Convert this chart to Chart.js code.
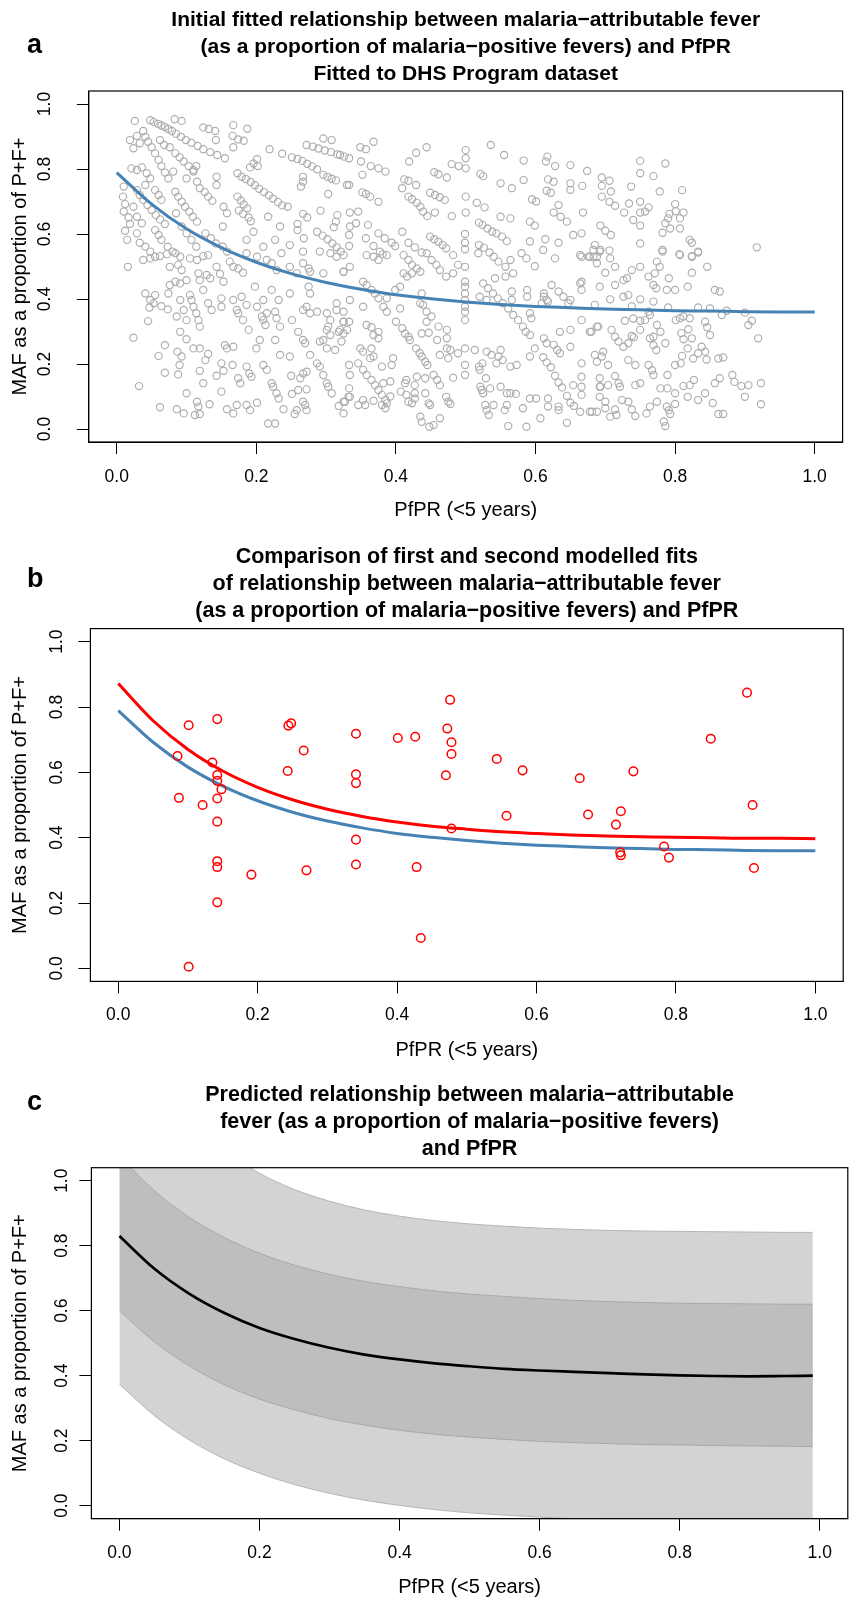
<!DOCTYPE html>
<html><head><meta charset="utf-8">
<script src="https://cdn.jsdelivr.net/npm/chart.js@4.4.1/dist/chart.umd.min.js"></script>
<style>
html,body{margin:0;padding:0;width:849px;height:1603px;overflow:hidden;background:#fff;}
.pan{position:absolute;left:0;}
canvas{display:block;}
</style></head><body>
<div class="pan" style="top:0px"><canvas id="ca" width="849" height="540"></canvas></div>
<div class="pan" style="top:540px"><canvas id="cb" width="849" height="530"></canvas></div>
<div class="pan" style="top:1070px"><canvas id="cc" width="849" height="533"></canvas></div>
<script>
// ---------- DATA ----------
const tickVals = [0, 0.2, 0.4, 0.6, 0.8, 1.0];
const titleA = ["Initial fitted relationship between malaria\u2212attributable fever", "(as a proportion of malaria\u2212positive fevers) and PfPR", "Fitted to DHS Program dataset"];
const titleB = ["Comparison of first and second modelled fits", "of relationship between malaria\u2212attributable fever", "(as a proportion of malaria\u2212positive fevers) and PfPR"];
const titleC = ["Predicted relationship between malaria\u2212attributable", "fever (as a proportion of malaria\u2212positive fevers)", "and PfPR"];
const xLabel = "PfPR (<5 years)";
const yLabel = "MAF as a proportion of P+F+";

// fitted curves (panel a and b)
const fitX = [0,0.05,0.1,0.15,0.2,0.25,0.3,0.35,0.4,0.45,0.5,0.55,0.6,0.65,0.7,0.75,0.8,0.85,0.9,0.95,1.0];
const firstFit = [0.789,0.692,0.616,0.558,0.513,0.478,0.451,0.430,0.413,0.401,0.391,0.383,0.377,0.373,0.369,0.367,0.364,0.363,0.361,0.360,0.360];
const secondFit = [0.872,0.758,0.670,0.604,0.554,0.516,0.487,0.465,0.448,0.435,0.426,0.418,0.413,0.408,0.405,0.403,0.401,0.400,0.398,0.398,0.397];

// panel b test points
const testX = [0.101,0.085,0.087,0.101,0.121,0.135,0.142,0.142,0.142,0.148,0.142,0.142,0.142,0.142,0.142,0.191,0.243,0.244,0.248,0.266,0.270,0.341,0.341,0.341,0.341,0.341,0.401,0.426,0.428,0.434,0.470,0.472,0.476,0.478,0.478,0.478,0.543,0.557,0.580,0.662,0.674,0.714,0.721,0.739,0.720,0.721,0.783,0.790,0.850,0.902,0.910,0.912];
const testY = [0.744,0.650,0.522,0.005,0.500,0.630,0.763,0.592,0.574,0.548,0.520,0.449,0.328,0.310,0.202,0.287,0.604,0.743,0.750,0.667,0.300,0.718,0.594,0.567,0.394,0.318,0.705,0.709,0.310,0.093,0.591,0.734,0.822,0.692,0.656,0.428,0.641,0.467,0.606,0.582,0.471,0.440,0.481,0.603,0.355,0.346,0.373,0.339,0.703,0.844,0.500,0.307];

// panel c prediction and intervals
const predX = [0,0.05,0.1,0.15,0.2,0.25,0.3,0.35,0.4,0.45,0.5,0.55,0.6,0.65,0.7,0.75,0.8,0.85,0.9,0.95,0.99];
const predMid = [0.830,0.729,0.652,0.593,0.547,0.513,0.486,0.465,0.450,0.438,0.429,0.421,0.416,0.412,0.408,0.404,0.401,0.399,0.398,0.399,0.400];
const innerHi = [1.076,0.969,0.887,0.825,0.777,0.740,0.712,0.690,0.674,0.661,0.651,0.644,0.637,0.632,0.628,0.625,0.623,0.622,0.621,0.620,0.620];
const innerLo = [0.600,0.504,0.430,0.372,0.328,0.295,0.268,0.248,0.232,0.220,0.211,0.204,0.198,0.194,0.191,0.188,0.187,0.185,0.184,0.183,0.182];
const outerHi = [1.500,1.319,1.188,1.093,1.023,0.973,0.937,0.910,0.891,0.877,0.867,0.860,0.854,0.850,0.847,0.845,0.844,0.843,0.842,0.841,0.841];
const outerLo = [0.374,0.277,0.202,0.144,0.100,0.065,0.038,0.017,0.001,-0.012,-0.022,-0.029,-0.035,-0.040,-0.043,-0.046,-0.048,-0.049,-0.051,-0.052,-0.052];

// panel a survey points [PfPR, MAF]
const dhsPoints = [
[0.026,0.948],[0.048,0.950],[0.053,0.945],[0.059,0.939],[0.064,0.934],[0.069,0.929],[0.074,0.923],[0.079,0.917],[0.083,0.953],[0.093,0.948],
[0.019,0.889],[0.029,0.902],[0.038,0.917],[0.033,0.879],[0.024,0.864],[0.041,0.899],[0.045,0.884],[0.050,0.867],[0.055,0.848],[0.060,0.828],
[0.064,0.809],[0.069,0.789],[0.074,0.771],[0.062,0.889],[0.068,0.874],[0.076,0.867],[0.084,0.848],[0.090,0.836],[0.096,0.823],[0.103,0.809],
[0.110,0.797],[0.085,0.908],[0.092,0.899],[0.099,0.889],[0.107,0.881],[0.116,0.871],[0.124,0.861],[0.134,0.852],[0.144,0.843],[0.155,0.833],
[0.124,0.928],[0.132,0.923],[0.141,0.917],[0.142,0.889],[0.167,0.935],[0.187,0.924],[0.166,0.902],[0.174,0.891],[0.182,0.887],[0.167,0.867],
[0.219,0.861],[0.237,0.847],[0.251,0.836],[0.259,0.831],[0.266,0.825],[0.273,0.816],[0.280,0.808],[0.287,0.799],[0.296,0.894],[0.308,0.889],
[0.272,0.874],[0.281,0.869],[0.289,0.863],[0.298,0.857],[0.307,0.852],[0.316,0.845],[0.326,0.838],[0.201,0.830],[0.196,0.817],[0.191,0.805],
[0.202,0.809],[0.114,0.809],[0.110,0.792],[0.267,0.776],[0.267,0.761],[0.264,0.746],[0.296,0.782],[0.302,0.776],[0.308,0.770],[0.314,0.765],
[0.330,0.751],[0.143,0.776],[0.143,0.751],[0.173,0.787],[0.179,0.776],[0.185,0.769],[0.192,0.760],[0.198,0.750],[0.204,0.739],[0.211,0.729],
[0.218,0.719],[0.224,0.709],[0.231,0.698],[0.237,0.688],[0.119,0.741],[0.126,0.729],[0.131,0.715],[0.137,0.702],[0.173,0.715],[0.178,0.703],
[0.182,0.691],[0.187,0.679],[0.175,0.672],[0.181,0.662],[0.189,0.651],[0.192,0.639],[0.245,0.684],[0.217,0.653],[0.234,0.623],[0.267,0.662],
[0.273,0.651],[0.259,0.631],[0.259,0.612],[0.268,0.587],[0.292,0.672],[0.303,0.723],[0.316,0.658],[0.314,0.638],[0.311,0.621],[0.287,0.607],
[0.295,0.595],[0.302,0.584],[0.309,0.571],[0.315,0.559],[0.321,0.546],[0.010,0.746],[0.009,0.715],[0.012,0.692],[0.010,0.669],[0.017,0.651],
[0.019,0.631],[0.012,0.610],[0.015,0.582],[0.021,0.802],[0.029,0.797],[0.036,0.805],[0.043,0.787],[0.048,0.771],[0.041,0.751],[0.029,0.735],
[0.033,0.720],[0.038,0.705],[0.044,0.689],[0.050,0.674],[0.056,0.658],[0.062,0.645],[0.069,0.631],[0.024,0.684],[0.029,0.653],[0.036,0.633],
[0.029,0.602],[0.033,0.573],[0.041,0.561],[0.048,0.546],[0.055,0.735],[0.060,0.720],[0.064,0.705],[0.055,0.612],[0.060,0.597],[0.064,0.582],
[0.073,0.561],[0.080,0.546],[0.084,0.730],[0.088,0.715],[0.093,0.699],[0.098,0.684],[0.104,0.669],[0.109,0.653],[0.115,0.638],[0.085,0.664],
[0.093,0.623],[0.100,0.602],[0.107,0.582],[0.114,0.561],[0.127,0.602],[0.135,0.587],[0.142,0.571],[0.152,0.561],[0.158,0.546],[0.081,0.792],
[0.100,0.771],[0.115,0.761],[0.153,0.684],[0.158,0.664],[0.152,0.623],[0.210,0.561],[0.227,0.582],[0.248,0.566],[0.186,0.582],[0.196,0.607],
[0.368,0.884],[0.349,0.867],[0.357,0.861],[0.320,0.843],[0.333,0.833],[0.350,0.823],[0.364,0.809],[0.375,0.802],[0.385,0.792],[0.352,0.782],
[0.333,0.751],[0.352,0.728],[0.357,0.723],[0.363,0.715],[0.375,0.699],[0.419,0.823],[0.429,0.850],[0.444,0.867],[0.412,0.768],[0.418,0.764],
[0.429,0.751],[0.409,0.741],[0.418,0.715],[0.423,0.707],[0.430,0.696],[0.435,0.684],[0.439,0.669],[0.445,0.655],[0.455,0.790],[0.461,0.784],
[0.473,0.774],[0.449,0.727],[0.456,0.720],[0.463,0.713],[0.470,0.705],[0.456,0.666],[0.480,0.655],[0.480,0.815],[0.490,0.809],[0.500,0.802],
[0.500,0.833],[0.500,0.858],[0.521,0.785],[0.525,0.778],[0.500,0.715],[0.500,0.666],[0.516,0.696],[0.527,0.682],[0.536,0.874],[0.555,0.843],
[0.583,0.826],[0.583,0.766],[0.566,0.741],[0.550,0.756],[0.617,0.838],[0.615,0.823],[0.628,0.809],[0.650,0.812],[0.674,0.794],[0.618,0.768],
[0.626,0.761],[0.650,0.756],[0.650,0.736],[0.616,0.733],[0.622,0.727],[0.595,0.707],[0.601,0.700],[0.633,0.689],[0.626,0.666],[0.636,0.653],
[0.645,0.638],[0.667,0.748],[0.668,0.666],[0.519,0.635],[0.524,0.628],[0.531,0.617],[0.538,0.607],[0.544,0.602],[0.552,0.592],[0.559,0.578],
[0.550,0.653],[0.564,0.648],[0.592,0.638],[0.599,0.626],[0.654,0.597],[0.666,0.602],[0.499,0.600],[0.499,0.573],[0.499,0.553],[0.334,0.666],
[0.346,0.669],[0.343,0.633],[0.334,0.623],[0.360,0.628],[0.375,0.602],[0.384,0.587],[0.394,0.573],[0.399,0.563],[0.333,0.597],[0.333,0.563],
[0.357,0.587],[0.368,0.563],[0.377,0.546],[0.409,0.607],[0.418,0.573],[0.427,0.559],[0.437,0.543],[0.449,0.592],[0.455,0.584],[0.461,0.576],
[0.467,0.566],[0.472,0.556],[0.519,0.566],[0.526,0.558],[0.534,0.543],[0.614,0.584],[0.633,0.573],[0.592,0.577],[0.611,0.551],[0.664,0.535],
[0.676,0.530],[0.683,0.551],
[0.750,0.825],[0.786,0.817],[0.750,0.787],[0.769,0.778],[0.695,0.774],[0.706,0.764],[0.695,0.748],[0.708,0.731],[0.695,0.715],[0.706,0.699],
[0.714,0.687],[0.737,0.746],[0.778,0.731],[0.810,0.735],[0.750,0.699],[0.762,0.682],[0.757,0.669],[0.750,0.666],[0.734,0.694],[0.727,0.666],
[0.800,0.692],[0.792,0.662],[0.812,0.666],[0.801,0.670],[0.790,0.648],[0.807,0.648],[0.786,0.633],[0.793,0.617],[0.807,0.617],[0.740,0.643],
[0.750,0.626],[0.693,0.626],[0.700,0.610],[0.708,0.597],[0.782,0.604],[0.750,0.571],[0.821,0.582],[0.824,0.573],[0.833,0.546],[0.824,0.530],
[0.917,0.559],[0.685,0.566],[0.693,0.551],[0.706,0.549],[0.782,0.551],[0.806,0.538],
[0.038,0.520],[0.048,0.525],[0.055,0.530],[0.062,0.532],[0.072,0.538],[0.084,0.541],[0.076,0.499],[0.088,0.505],[0.093,0.489],[0.091,0.530],
[0.105,0.525],[0.115,0.520],[0.124,0.532],[0.131,0.535],[0.117,0.479],[0.119,0.458],[0.129,0.474],[0.134,0.464],[0.143,0.499],[0.148,0.477],
[0.153,0.453],[0.162,0.515],[0.167,0.499],[0.174,0.494],[0.181,0.481],[0.186,0.541],[0.201,0.530],[0.215,0.520],[0.222,0.510],[0.229,0.489],
[0.236,0.541],[0.248,0.499],[0.258,0.479],[0.267,0.510],[0.275,0.494],[0.277,0.484],[0.296,0.479],[0.267,0.546],[0.291,0.546],[0.306,0.541],
[0.315,0.530],[0.325,0.484],[0.016,0.499],[0.024,0.281],[0.032,0.132],[0.041,0.417],[0.048,0.397],[0.055,0.412],[0.053,0.387],[0.047,0.374],
[0.064,0.378],[0.073,0.368],[0.045,0.332],[0.076,0.443],[0.074,0.417],[0.084,0.453],[0.091,0.448],[0.100,0.458],[0.086,0.346],[0.091,0.397],
[0.096,0.366],[0.100,0.335],[0.105,0.412],[0.107,0.397],[0.110,0.376],[0.114,0.356],[0.117,0.335],[0.119,0.315],[0.124,0.428],[0.131,0.387],
[0.136,0.366],[0.150,0.402],[0.150,0.376],[0.167,0.397],[0.172,0.366],[0.174,0.356],[0.179,0.407],[0.181,0.335],[0.186,0.382],[0.189,0.305],
[0.198,0.438],[0.201,0.376],[0.210,0.397],[0.208,0.346],[0.210,0.335],[0.213,0.320],[0.215,0.356],[0.222,0.428],[0.227,0.361],[0.229,0.341],
[0.232,0.397],[0.234,0.315],[0.248,0.417],[0.251,0.335],[0.260,0.299],[0.267,0.366],[0.272,0.376],[0.277,0.356],[0.287,0.361],[0.275,0.438],
[0.277,0.417],[0.301,0.356],[0.306,0.335],[0.315,0.387],[0.315,0.366],[0.320,0.305],[0.301,0.305],[0.303,0.315],[0.306,0.289],[0.296,0.274],
[0.291,0.269],[0.325,0.330],[0.330,0.305],[0.318,0.299],[0.091,0.299],[0.100,0.276],[0.069,0.258],[0.060,0.225],[0.087,0.238],[0.093,0.223],
[0.090,0.197],[0.088,0.168],[0.069,0.173],[0.110,0.248],[0.119,0.248],[0.131,0.231],[0.127,0.212],[0.119,0.179],[0.124,0.141],[0.143,0.164],
[0.150,0.202],[0.153,0.179],[0.155,0.258],[0.158,0.248],[0.167,0.253],[0.166,0.197],[0.174,0.156],[0.177,0.141],[0.186,0.192],[0.190,0.171],
[0.193,0.161],[0.200,0.248],[0.205,0.274],[0.210,0.197],[0.215,0.182],[0.222,0.141],[0.224,0.130],[0.229,0.110],[0.232,0.094],[0.239,0.061],
[0.227,0.274],[0.234,0.228],[0.248,0.223],[0.250,0.164],[0.251,0.108],[0.260,0.120],[0.263,0.156],[0.267,0.171],[0.272,0.176],[0.272,0.122],
[0.267,0.084],[0.270,0.074],[0.272,0.058],[0.258,0.058],[0.255,0.046],[0.267,0.274],[0.270,0.264],[0.277,0.228],[0.287,0.202],[0.291,0.192],
[0.296,0.166],[0.301,0.141],[0.303,0.130],[0.308,0.110],[0.313,0.243],[0.301,0.248],[0.318,0.071],[0.325,0.084],[0.332,0.099],[0.062,0.067],
[0.086,0.061],[0.096,0.048],[0.112,0.043],[0.119,0.046],[0.115,0.084],[0.117,0.069],[0.133,0.076],[0.158,0.061],[0.167,0.048],[0.186,0.074],
[0.191,0.058],[0.201,0.081],[0.217,0.017],[0.227,0.017],[0.100,0.110],[0.150,0.115],[0.172,0.074],
[0.325,0.535],[0.334,0.499],[0.325,0.484],[0.358,0.535],[0.368,0.530],[0.375,0.520],[0.381,0.538],[0.387,0.535],[0.411,0.535],[0.418,0.520],
[0.423,0.505],[0.430,0.494],[0.435,0.484],[0.411,0.479],[0.416,0.469],[0.423,0.479],[0.444,0.541],[0.451,0.520],[0.458,0.505],[0.463,0.489],
[0.472,0.469],[0.482,0.479],[0.489,0.505],[0.482,0.535],[0.499,0.499],[0.499,0.453],[0.499,0.438],[0.499,0.417],[0.499,0.397],[0.499,0.376],
[0.499,0.361],[0.499,0.335],[0.518,0.541],[0.540,0.530],[0.547,0.515],[0.557,0.499],[0.564,0.520],[0.580,0.541],[0.587,0.525],[0.599,0.501],
[0.542,0.464],[0.557,0.469],[0.568,0.479],[0.525,0.448],[0.532,0.433],[0.539,0.417],[0.546,0.402],[0.553,0.387],[0.561,0.371],[0.568,0.351],
[0.575,0.335],[0.582,0.315],[0.586,0.299],[0.592,0.289],[0.520,0.407],[0.530,0.397],[0.566,0.423],[0.566,0.397],[0.588,0.407],[0.588,0.428],
[0.592,0.356],[0.594,0.341],[0.609,0.387],[0.616,0.397],[0.623,0.443],[0.633,0.423],[0.640,0.407],[0.647,0.387],[0.666,0.453],[0.666,0.428],
[0.678,0.530],[0.688,0.530],[0.666,0.530],[0.666,0.335],[0.678,0.299],[0.688,0.315],[0.635,0.299],[0.650,0.305],[0.612,0.279],[0.616,0.264],
[0.626,0.259],[0.631,0.243],[0.635,0.233],[0.650,0.253],[0.599,0.248],[0.592,0.223],[0.611,0.221],[0.616,0.205],[0.622,0.190],[0.628,0.164],
[0.633,0.143],[0.638,0.128],[0.645,0.102],[0.650,0.081],[0.655,0.071],[0.666,0.202],[0.666,0.161],[0.666,0.130],[0.666,0.105],[0.654,0.135],
[0.693,0.130],[0.664,0.053],[0.681,0.053],[0.688,0.053],[0.618,0.094],[0.618,0.069],[0.633,0.069],[0.633,0.058],[0.607,0.033],[0.645,0.019],
[0.582,0.064],[0.592,0.094],[0.601,0.094],[0.559,0.074],[0.556,0.058],[0.564,0.110],[0.572,0.108],[0.561,0.009],[0.587,0.007],[0.521,0.130],
[0.523,0.120],[0.525,0.110],[0.529,0.156],[0.535,0.125],[0.540,0.074],[0.528,0.074],[0.530,0.058],[0.533,0.043],[0.550,0.130],[0.559,0.110],
[0.550,0.243],[0.530,0.238],[0.513,0.243],[0.537,0.228],[0.544,0.202],[0.524,0.202],[0.519,0.192],[0.520,0.182],[0.547,0.223],[0.553,0.212],
[0.564,0.192],[0.573,0.197],[0.499,0.248],[0.499,0.197],[0.499,0.166],[0.482,0.158],[0.473,0.305],[0.473,0.279],[0.461,0.315],[0.463,0.228],
[0.475,0.218],[0.473,0.248],[0.478,0.243],[0.489,0.233],[0.437,0.294],[0.447,0.296],[0.459,0.274],[0.439,0.382],[0.444,0.361],[0.444,0.330],
[0.451,0.346],[0.435,0.387],[0.437,0.417],[0.409,0.310],[0.413,0.294],[0.418,0.284],[0.420,0.274],[0.429,0.248],[0.434,0.233],[0.437,0.223],
[0.442,0.207],[0.445,0.197],[0.400,0.330],[0.406,0.371],[0.399,0.428],[0.382,0.376],[0.387,0.361],[0.406,0.438],[0.396,0.218],[0.394,0.197],
[0.380,0.192],[0.382,0.141],[0.392,0.146],[0.392,0.100],[0.407,0.115],[0.415,0.105],[0.418,0.084],[0.423,0.079],[0.427,0.094],[0.415,0.151],
[0.413,0.141],[0.430,0.161],[0.442,0.156],[0.454,0.166],[0.459,0.151],[0.463,0.135],[0.472,0.099],[0.475,0.084],[0.478,0.077],[0.435,0.038],
[0.437,0.022],[0.448,0.007],[0.454,0.012],[0.463,0.033],[0.447,0.079],[0.449,0.074],[0.427,0.135],[0.427,0.110],[0.442,0.110],[0.349,0.248],
[0.353,0.238],[0.365,0.248],[0.368,0.223],[0.363,0.218],[0.346,0.202],[0.353,0.182],[0.358,0.166],[0.365,0.151],[0.370,0.135],[0.375,0.120],
[0.380,0.105],[0.385,0.089],[0.387,0.079],[0.333,0.197],[0.334,0.166],[0.333,0.125],[0.334,0.099],[0.327,0.084],[0.325,0.048],[0.346,0.074],
[0.353,0.089],[0.356,0.074],[0.368,0.087],[0.380,0.074],[0.385,0.064],[0.325,0.361],[0.325,0.330],[0.333,0.330],[0.325,0.294],[0.322,0.269],
[0.334,0.397],[0.353,0.376],[0.358,0.320],[0.365,0.313],[0.375,0.299],[0.375,0.279],[0.368,0.289],[0.353,0.453],[0.358,0.443],[0.365,0.428],
[0.370,0.417],[0.375,0.402],[0.387,0.402],[0.628,0.525],[0.612,0.417],[0.612,0.407],[0.618,0.392],[0.650,0.397],[0.664,0.448],
[0.683,0.530],[0.688,0.510],[0.700,0.481],[0.707,0.525],[0.714,0.499],[0.692,0.546],[0.692,0.438],[0.714,0.443],[0.726,0.458],[0.731,0.464],
[0.738,0.489],[0.750,0.499],[0.726,0.407],[0.733,0.412],[0.750,0.399],[0.738,0.378],[0.707,0.399],[0.685,0.382],[0.762,0.469],[0.771,0.479],
[0.774,0.515],[0.778,0.499],[0.769,0.443],[0.773,0.433],[0.788,0.428],[0.800,0.428],[0.791,0.464],[0.782,0.546],[0.807,0.535],[0.824,0.532],
[0.833,0.543],[0.824,0.481],[0.846,0.499],[0.818,0.438],[0.857,0.428],[0.864,0.423],[0.769,0.392],[0.790,0.374],[0.833,0.374],[0.850,0.371],
[0.874,0.364],[0.900,0.358],[0.910,0.333],[0.905,0.320],[0.919,0.279],[0.867,0.351],[0.762,0.361],[0.764,0.351],[0.757,0.335],[0.750,0.333],
[0.740,0.340],[0.728,0.333],[0.690,0.315],[0.680,0.299],[0.709,0.305],[0.714,0.284],[0.719,0.269],[0.726,0.253],[0.733,0.264],[0.738,0.286],
[0.741,0.282],[0.750,0.305],[0.764,0.279],[0.769,0.284],[0.773,0.243],[0.769,0.258],[0.786,0.264],[0.779,0.299],[0.774,0.320],[0.801,0.335],
[0.807,0.341],[0.812,0.346],[0.821,0.341],[0.843,0.330],[0.846,0.313],[0.850,0.289],[0.809,0.295],[0.812,0.276],[0.819,0.307],[0.824,0.279],
[0.818,0.248],[0.838,0.253],[0.843,0.238],[0.833,0.233],[0.826,0.217],[0.845,0.214],[0.800,0.197],[0.808,0.202],[0.810,0.225],[0.862,0.217],
[0.869,0.220],[0.685,0.228],[0.697,0.238],[0.695,0.223],[0.704,0.197],[0.688,0.207],[0.733,0.212],[0.743,0.197],[0.762,0.197],[0.767,0.181],
[0.769,0.166],[0.789,0.166],[0.692,0.156],[0.692,0.130],[0.704,0.135],[0.714,0.163],[0.719,0.141],[0.721,0.130],[0.743,0.135],[0.750,0.141],
[0.779,0.125],[0.789,0.125],[0.800,0.110],[0.812,0.132],[0.821,0.135],[0.827,0.151],[0.818,0.099],[0.833,0.089],[0.843,0.110],[0.857,0.141],
[0.864,0.156],[0.882,0.166],[0.885,0.145],[0.895,0.132],[0.905,0.135],[0.900,0.099],[0.923,0.141],[0.923,0.076],[0.854,0.080],[0.862,0.046],
[0.869,0.046],[0.784,0.023],[0.786,0.009],[0.791,0.058],[0.793,0.046],[0.800,0.077],[0.774,0.084],[0.764,0.069],[0.759,0.048],[0.788,0.069],
[0.692,0.099],[0.700,0.084],[0.707,0.038],[0.716,0.043],[0.714,0.060],[0.724,0.089],[0.733,0.084],[0.738,0.060],[0.743,0.040],[0.678,0.053],
[0.700,0.064]
];

// ---------- HELPERS ----------
const FF = "'Liberation Sans', Arial, Helvetica, sans-serif";
const pairs = (xs, ys) => xs.map((x, i) => ({x: x, y: ys[i]}));

const boxPlugin = {
  id: 'rbox',
  afterDatasetsDraw(chart) {
    const {ctx, chartArea: a} = chart;
    ctx.save();
    ctx.strokeStyle = '#000'; ctx.lineWidth = 1.2;
    ctx.strokeRect(a.left, a.top, a.right - a.left, a.bottom - a.top);
    ctx.restore();
  }
};
const letterPlugin = {
  id: 'rletter',
  afterDraw(chart, args, opts) {
    const ctx = chart.ctx;
    ctx.save();
    ctx.font = "bold 27px " + FF;
    ctx.fillStyle = '#000';
    ctx.textBaseline = 'alphabetic';
    ctx.textAlign = 'left';
    ctx.fillText(opts.text, opts.x, opts.y);
    ctx.restore();
  }
};

function axis(cfg, isX) {
  return {
    type: 'linear', min: -0.04, max: 1.04,
    afterBuildTicks: s => { s.ticks = tickVals.map(v => ({value: v})); },
    afterFit: s => { if (isX) s.height = cfg.xh; else s.width = cfg.left; },
    grid: {display: true, drawOnChartArea: false, drawTicks: true, tickLength: 12, color: '#000', lineWidth: 1},
    border: {display: true, color: '#000', width: 1},
    ticks: isX ? {color: '#000', font: {family: FF, size: 17.5}, padding: cfg.xtp, minRotation: 0, maxRotation: 0, autoSkip: false, callback: v => Number(v).toFixed(1)}
               : {color: '#000', font: {family: FF, size: 17.5}, padding: cfg.ytp, minRotation: 90, maxRotation: 90, crossAlign: 'center', autoSkip: false, callback: v => Number(v).toFixed(1)},
    title: isX ? {display: true, text: xLabel, color: '#000', font: {family: FF, size: 20}, padding: {top: 0, bottom: cfg.xtb}}
               : {display: true, text: yLabel, color: '#000', font: {family: FF, size: 20}, padding: {top: 8, bottom: 0}}
  };
}

function makeChart(id, cfg, datasets) {
  return new Chart(document.getElementById(id), {
    type: 'scatter',
    data: {datasets: datasets},
    options: {
      responsive: false, animation: false, events: [],
      layout: {padding: {left: 0, right: cfg.padR, top: 0, bottom: 0}},
      scales: {x: axis(cfg, true), y: axis(cfg, false)},
      plugins: {
        legend: {display: false}, tooltip: {enabled: false},
        filler: {drawTime: 'beforeDatasetsDraw'},
        title: {display: true, fullSize: false, text: cfg.title, color: '#000',
                font: {family: FF, size: cfg.tfs || 21.5, weight: 'bold', lineHeight: 27 / (cfg.tfs || 21.5)},
                padding: {top: cfg.tpt, bottom: cfg.tpb}},
        rletter: {text: cfg.letter, x: 27, y: cfg.ly}
      }
    },
    plugins: [boxPlugin, letterPlugin]
  });
}

const lineDs = (xs, ys, color, w, extra) => Object.assign({
  data: pairs(xs, ys), showLine: true, pointRadius: 0, borderColor: color, borderWidth: w,
  backgroundColor: color, fill: false, cubicInterpolationMode: 'monotone'
}, extra || {});

// ---------- PANEL A ----------
makeChart('ca', {left: 88.8, padR: 6.4, xh: 98, xtp: 12.5, xtb: 18, ytp: 19.6, tpt: 6.5, tpb: 3.5, tfs: 21, title: titleA, letter: 'a', ly: 53}, [
  lineDs(fitX, firstFit, '#4682b4', 3),
  {data: dhsPoints.map(p => ({x: p[0], y: p[1]})), pointRadius: 3.6, pointBorderWidth: 1.15,
   pointBorderColor: '#adadad', pointBackgroundColor: 'rgba(0,0,0,0)', showLine: false}
]);

// ---------- PANEL B ----------
makeChart('cb', {left: 90.4, padR: 4.8, xh: 88.6, xtp: 11.1, xtb: 8, ytp: 9.2, tpt: 3.5, tpb: 4.1, title: titleB, letter: 'b', ly: 47}, [
  {data: pairs(testX, testY), pointRadius: 4.3, pointBorderWidth: 1.5,
   pointBorderColor: '#ff0000', pointBackgroundColor: 'rgba(0,0,0,0)', showLine: false},
  lineDs(fitX, secondFit, '#ff0000', 3),
  lineDs(fitX, firstFit, '#4682b4', 3)
]);

// ---------- PANEL C ----------
makeChart('cc', {left: 91.4, padR: 1.2, xh: 84.3, xtp: 12.1, xtb: 3.5, ytp: 5.2, tpt: 11.5, tpb: 5.2, title: titleC, letter: 'c', ly: 40}, [
  lineDs(predX, predMid, '#000000', 2.7, {order: 0}),
  lineDs(predX, innerHi, '#a9a9a9', 1, {order: 1, fill: 2, backgroundColor: '#bebebe'}),
  lineDs(predX, innerLo, '#a9a9a9', 1, {order: 1}),
  lineDs(predX, outerHi, '#b5b5b5', 1, {order: 2, fill: 4, backgroundColor: '#d3d3d3'}),
  lineDs(predX, outerLo, '#b5b5b5', 1, {order: 2})
]);
</script>
</body></html>
